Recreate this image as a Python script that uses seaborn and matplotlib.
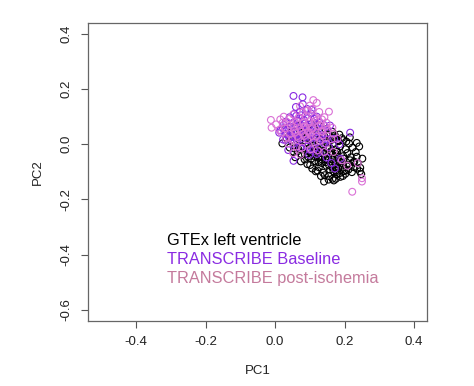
import matplotlib
matplotlib.use("Agg")
import matplotlib.pyplot as plt
import seaborn as sns
import pandas as pd

# ---- data ----
gtex_x = [0.021,0.033,0.042,0.048,0.054,0.063,0.058,0.072,0.067,0.074,0.083,0.078,0.086,0.092,0.088,0.097,0.093,0.103,0.098,0.104,0.107,
          0.112,0.108,0.116,0.113,0.117,0.122,0.127,0.118,0.124,0.126,0.133,0.128,0.136,0.131,0.134,0.138,0.142,0.147,0.139,0.144,0.148,0.143,
          0.153,0.149,0.156,0.152,0.158,0.154,0.162,0.157,0.166,0.163,0.168,0.172,0.167,0.176,0.171,0.174,0.178,0.169,0.183,0.179,0.186,0.182,
          0.188,0.192,0.187,0.196,0.193,0.198,0.203,0.197,0.206,0.202,0.213,0.208,0.216,0.211,0.223,0.218,0.226,0.221,0.232,0.228,0.236,0.242,
          0.238,0.244,0.251,0.248,0.031,0.043,0.062,0.085,0.105,0.125,0.145,0.165,0.185,0.195,0.205,0.215,0.235,0.175,0.165,
          0.155,0.185,0.175,0.195,0.185,0.165,0.145,0.135,0.125,0.115,0.105,0.095,0.085,0.075,0.065,0.055,0.045,0.155,
          0.165,0.175,0.195,0.205,0.215,0.225,0.235,0.245,0.141,0.122,0.101,0.132,0.175,0.181,0.161,0.151,0.141,0.131,0.121,0.111,
          0.101,0.091,0.081,0.071,0.061,0.161,0.171,0.181]
gtex_y = [0.003,0.022,-0.012,0.031,-0.028,0.012,-0.047,0.043,-0.018,-0.062,0.024,-0.008,-0.037,0.052,0.004,-0.026,-0.072,0.033,-0.014,-0.052,-0.088,
          0.058,0.012,-0.022,-0.061,-0.098,0.038,0.004,-0.031,-0.049,-0.083,0.047,0.018,-0.011,-0.042,-0.068,-0.103,0.028,0.006,-0.024,-0.053,-0.078,-0.112,
          0.036,0.013,-0.032,-0.058,-0.092,-0.128,0.021,-0.012,-0.038,-0.071,-0.098,0.032,0.004,-0.021,-0.048,-0.083,-0.108,-0.131,0.011,-0.027,-0.062,-0.088,
          -0.118,0.022,-0.008,-0.043,-0.068,-0.097,-0.018,-0.052,-0.077,-0.107,0.003,-0.032,-0.058,-0.092,-0.012,-0.047,-0.083,-0.101,-0.028,-0.063,-0.088,-0.008,
          -0.067,-0.098,-0.052,-0.108,0.058,0.041,0.068,0.045,0.075,0.07,0.055,0.045,0.035,0.015,0.01,0.025,0.005,-0.035,-0.055,
          -0.075,-0.075,-0.095,-0.085,-0.105,-0.085,-0.065,-0.055,-0.065,-0.045,-0.035,-0.045,-0.055,-0.035,-0.025,-0.015,0.015,-0.115,
          -0.125,-0.125,-0.115,-0.095,-0.075,-0.065,-0.045,-0.085,-0.135,-0.095,-0.075,-0.115,-0.065,-0.045,-0.025,-0.015,-0.035,-0.025,-0.015,-0.005,
          0.015,0.025,0.035,0.015,0.045,0.015,0.025,0.015]

base_x = [0.053,0.079,0.216,0.053,0.038,0.092,0.071,0.103,0.042,0.061,0.083,0.112,0.128,0.031,0.052,0.073,0.091,0.118,0.138,0.022,0.043,
          0.062,0.081,0.098,0.108,0.127,0.148,0.012,0.033,0.051,0.068,0.088,0.102,0.122,0.142,0.158,0.023,0.041,0.063,0.078,0.093,0.112,0.128,
          0.052,0.072,0.098,0.148,0.162,0.188,0.172,0.065,0.085,0.095,0.075,0.055,0.045,0.065,0.085,0.105,0.115,0.125,0.035,
          0.025,0.015,0.055,0.075,0.095,0.105,0.12,0.14,0.15,0.135,0.115,0.095,0.075,0.06,0.045,0.03,0.12,0.10,0.155,
          0.17,0.185,0.06,0.08]
base_y = [0.175,0.170,0.042,-0.060,-0.021,0.128,0.117,0.112,0.098,0.103,0.088,0.092,0.078,0.082,0.077,0.072,0.068,0.062,0.052,0.058,0.063,
          0.048,0.053,0.047,0.038,0.032,0.018,0.042,0.037,0.028,0.033,0.027,0.022,0.008,0.003,0.068,0.017,0.023,0.012,0.007,-0.008,-0.018,-0.028,
          0.002,-0.012,-0.038,-0.048,-0.068,-0.052,-0.088,0.085,0.075,0.06,0.055,0.065,0.045,0.04,0.04,0.065,0.075,0.045,0.055,
          0.07,0.05,0.11,0.105,0.095,0.125,0.10,0.07,0.04,0.015,0.025,0.015,0.02,0.025,0.03,0.015,-0.035,-0.02,-0.01,
          0.02,0.00,0.135,0.145]

post_x = [0.110,0.155,-0.012,-0.010,0.222,0.25,0.25,0.072,0.093,0.108,0.127,0.142,0.052,0.068,0.088,0.112,0.122,0.003,0.022,0.041,0.063,
          0.082,0.098,0.132,0.148,0.012,0.028,0.053,0.072,0.087,0.108,0.133,0.152,0.168,0.018,0.042,0.058,0.081,0.102,0.118,0.138,0.162,0.032,
          0.048,0.068,0.092,0.113,0.128,0.147,0.038,0.062,0.078,0.103,0.122,0.142,0.052,0.073,0.168,0.192,0.208,0.238,0.065,0.085,0.075,
          0.095,0.105,0.085,0.065,0.105,0.095,0.115,0.125,0.135,0.145,0.055,0.045,0.035,0.025,0.015,0.165,0.18,0.135,
          0.10,0.12,0.08]
post_y = [0.160,0.118,0.088,0.060,-0.172,-0.123,-0.135,0.138,0.122,0.128,0.117,0.098,0.108,0.097,0.103,0.098,0.088,0.072,0.078,0.092,0.082,
          0.077,0.083,0.068,0.078,0.052,0.058,0.062,0.057,0.063,0.058,0.048,0.053,0.038,0.042,0.037,0.043,0.038,0.042,0.028,0.032,0.018,0.022,
          0.017,0.023,0.018,0.008,0.012,0.002,0.003,-0.008,-0.012,-0.018,-0.022,-0.028,-0.032,-0.038,-0.028,-0.058,-0.078,-0.068,0.07,0.065,0.045,
          0.045,0.055,0.03,0.03,0.03,0.075,0.085,0.065,0.045,0.065,0.05,0.07,0.08,0.10,0.09,0.06,0.02,0.09,
          0.14,0.15,0.115]

groups = ["GTEx left ventricle", "TRANSCRIBE Baseline", "TRANSCRIBE post-ischemia"]
point_colors = ["black", "#8a2be2", "#da70d6"]
text_colors = ["black", "#8a2be2", "#c47a9c"]

df = pd.concat([
    pd.DataFrame({"PC1": gtex_x, "PC2": gtex_y, "group": groups[0]}),
    pd.DataFrame({"PC1": base_x, "PC2": base_y, "group": groups[1]}),
    pd.DataFrame({"PC1": post_x, "PC2": post_y, "group": groups[2]}),
], ignore_index=True)

sns.set_style("white")
plt.rcParams["font.family"] = ["Liberation Sans", "DejaVu Sans"]

fig = plt.figure(figsize=(4.74, 3.86), dpi=100)
ax = fig.add_axes([0.1857, 0.1684, 0.7151, 0.7712])

for g, c in zip(groups, point_colors):
    sub = df[df["group"] == g]
    sns.scatterplot(data=sub, x="PC1", y="PC2", ax=ax, s=24, linewidth=0.8, legend=False)
    coll = ax.collections[-1]
    coll.set_facecolor("none")
    coll.set_edgecolor(c)
    coll.set_linewidth(0.8)

ax.set_xlim(-0.538, 0.437)
ax.set_ylim(-0.640, 0.438)
ax.set_xticks([-0.4, -0.2, 0.0, 0.2, 0.4])
ax.set_xticklabels(["-0.4", "-0.2", "0.0", "0.2", "0.4"])
ax.set_yticks([-0.6, -0.4, -0.2, 0.0, 0.2, 0.4])
ax.set_yticklabels(["-0.6", "-0.4", "-0.2", "0.0", "0.2", "0.4"], rotation=90, va="center")
ax.tick_params(axis="both", direction="out", length=5, width=0.8, color="#555555",
               labelsize=9.5, labelcolor="#222222", pad=6, left=True, bottom=True)
for sp in ax.spines.values():
    sp.set_color("#666666")
    sp.set_linewidth(0.9)
ax.set_xlabel("PC1", fontsize=9.5, color="#222222", labelpad=12)
ax.set_ylabel("PC2", fontsize=9.5, color="#222222", labelpad=12)

legend_y = [-0.347, -0.417, -0.486]
for g, tc, yy in zip(groups, text_colors, legend_y):
    ax.text(-0.312, yy, g, color=tc, fontsize=11.8, ha="left", va="center")

fig.savefig("out.png", dpi=100)
